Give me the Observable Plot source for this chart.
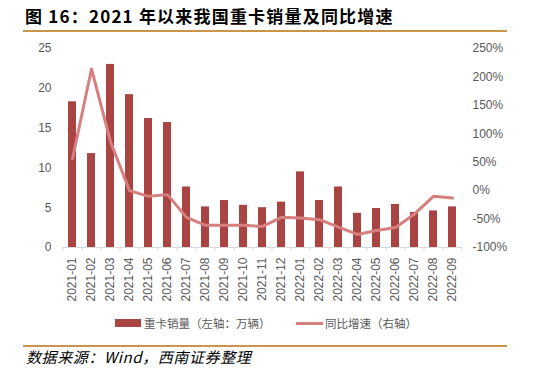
<!DOCTYPE html>
<html><head><meta charset="utf-8">
<script src="https://cdn.jsdelivr.net/npm/d3@7"></script>
<script src="https://cdn.jsdelivr.net/npm/@observablehq/plot@0.6"></script>
<style>
body{margin:0;background:#fff;width:537px;height:372px;position:relative;overflow:hidden;font-family:"Liberation Sans",Arial,sans-serif;}
.abs{position:absolute;white-space:nowrap;}
#title{left:25px;top:5px;font:bold 17px "Noto Sans CJK SC","Liberation Sans",sans-serif;letter-spacing:1.2px;color:#000;line-height:22px;}
.gold{position:absolute;left:23px;width:484px;height:2px;background:#c8964a;}
.leg{font:11.5px "Noto Sans CJK SC",sans-serif;color:#595959;line-height:16px;}
#source{left:26px;top:347px;font:italic 15px "Noto Sans CJK SC",sans-serif;letter-spacing:0.6px;color:#000;line-height:20px;}
#chart{position:absolute;left:0;top:0;}
</style>
</head><body>
<div id="title" class="abs">图 16：2021 年以来我国重卡销量及同比增速</div>
<div class="gold" style="top:30px"></div>
<div id="chart"></div>
<div class="abs" style="left:115px;top:319px;width:26px;height:8px;background:#a94442"></div>
<div class="abs leg" style="left:144px;top:315px">重卡销量（左轴：万辆）</div>
<div class="abs" style="left:296px;top:322px;width:27px;height:3px;background:#d77f7f"></div>
<div class="abs leg" style="left:325px;top:315px">同比增速（右轴）</div>
<div class="gold" style="top:345px"></div>
<div id="source" class="abs">数据来源：Wind，西南证券整理</div>
<script>
const months = ["2021-01","2021-02","2021-03","2021-04","2021-05","2021-06","2021-07","2021-08","2021-09","2021-10","2021-11","2021-12","2022-01","2022-02","2022-03","2022-04","2022-05","2022-06","2022-07","2022-08","2022-09"];
const sales = [18.3,11.8,23.0,19.2,16.2,15.7,7.6,5.1,5.9,5.3,5.0,5.7,9.5,5.9,7.6,4.3,4.9,5.4,4.4,4.6,5.1];
const yoy = [56,214,86,0,-10,-7,-47,-61,-61,-61,-63,-47,-48,-51,-64,-77,-70,-65,-41,-10,-13];
const leftTicks = [0,5,10,15,20,25];
const rightTicks = [-100,-50,0,50,100,150,200,250];

const W = 537, H = 310, ML = 62, MR = 75, MT = 48, MB = 63;
const leftMax = 25, rMin = -100, rMax = 250;
const toY = p => (p - rMin) / (rMax - rMin) * leftMax;
const fromY = y => Math.round(y * (rMax - rMin) / leftMax + rMin);
const step = (W - ML - MR) / months.length;

const rows = months.map((m, i) => ({m, s: sales[i], g: yoy[i]}));

const chart = Plot.plot({
  width: W, height: H,
  marginLeft: ML, marginRight: MR, marginTop: MT, marginBottom: MB,
  style: {fontFamily: '"Liberation Sans", Arial, sans-serif', fontSize: "12px", color: "#595959", background: "transparent", overflow: "visible"},
  x: {type: "band", domain: months, paddingInner: 0.58, paddingOuter: 0.29, label: null},
  y: {domain: [0, leftMax], label: null},
  marks: [
    Plot.barY(rows, {x: "m", y: "s", fill: "#a94442"}),
    Plot.ruleY([0], {stroke: "#d9d9d9", strokeWidth: 1}),
    Plot.ruleX(months, {x: d => d, dx: -step / 2, y1: 0, y2: -0.5, stroke: "#d9d9d9"}),
    Plot.ruleX([months[months.length - 1]], {x: d => d, dx: step / 2, y1: 0, y2: -0.5, stroke: "#d9d9d9"}),
    Plot.lineY(rows, {x: "m", y: d => toY(d.g), stroke: "#d77f7f", strokeWidth: 3}),
    Plot.axisY({anchor: "left", ticks: leftTicks, tickSize: 0, tickPadding: 11, label: null}),
    Plot.axisY({anchor: "right", ticks: rightTicks.map(toY), tickFormat: d => fromY(d) + "%", tickSize: 0, tickPadding: 10, label: null}),
    Plot.axisX({tickRotate: -90, tickSize: 0, tickPadding: 10, label: null})
  ]
});
document.getElementById("chart").appendChild(chart);
</script>
</body></html>
